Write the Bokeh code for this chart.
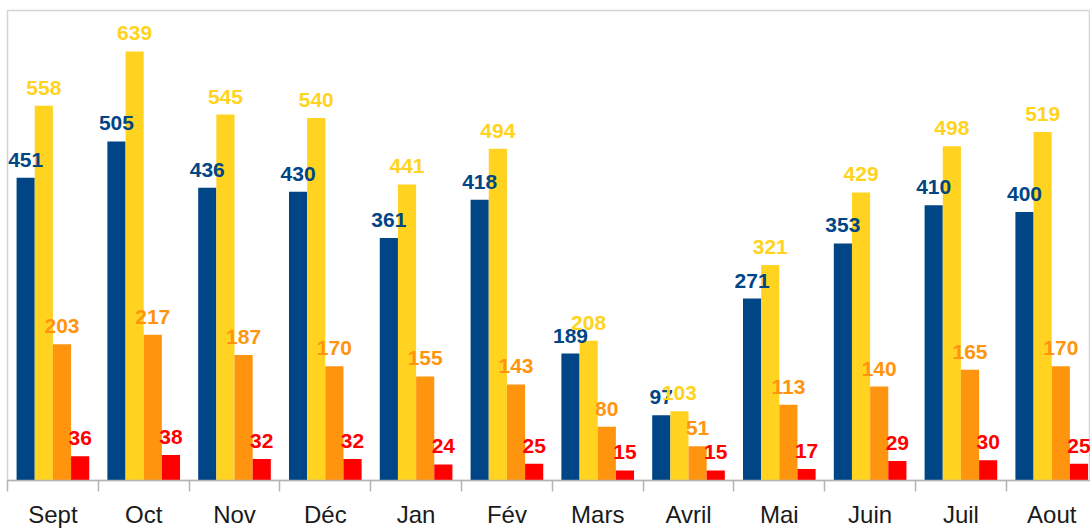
from bokeh.plotting import figure
from bokeh.models import ColumnDataSource, Range1d, FixedTicker, LinearAxis
from bokeh.transform import dodge
from bokeh.core.properties import value
from bokeh.embed import file_html
from bokeh.resources import INLINE

months = ["Sept", "Oct", "Nov", "Déc", "Jan", "Fév", "Mars", "Avril", "Mai", "Juin", "Juil", "Aout"]
serie_bleue = [451, 505, 436, 430, 361, 418, 189, 97, 271, 353, 410, 400]
serie_jaune = [558, 639, 545, 540, 441, 494, 208, 103, 321, 429, 498, 519]
serie_orange = [203, 217, 187, 170, 155, 143, 80, 51, 113, 140, 165, 170]
serie_rouge = [36, 38, 32, 32, 24, 25, 15, 15, 17, 29, 30, 25]

series = [
    ("bleue", serie_bleue, "#004586", -0.3),
    ("jaune", serie_jaune, "#ffd320", -0.1),
    ("orange", serie_orange, "#ff950e", 0.1),
    ("rouge", serie_rouge, "#ff0000", 0.3),
]

idx = list(range(len(months)))
data = {"i": idx}
for name, vals, _, _ in series:
    data[name] = vals
    data[name + "_lbl"] = [str(v) for v in vals]
source = ColumnDataSource(data)

p = figure(
    frame_width=1083, frame_height=470,
    x_range=Range1d(-0.5, 11.427), y_range=Range1d(0, 700),
    output_backend="svg", toolbar_location=None,
    x_axis_location=None, y_axis_location=None,
    min_border_left=7, min_border_right=0, min_border_top=10, min_border_bottom=0,
)
p.xgrid.visible = False
p.ygrid.visible = False
p.outline_line_color = "#d4d4d4"
p.outline_line_width = 1.5
p.background_fill_color = "white"
p.border_fill_color = "white"

for name, vals, color, off in series:
    p.vbar(x=dodge("i", off, range=p.x_range), top=name, width=0.2, bottom=0,
           source=source, fill_color=color, line_color=None)
for name, vals, color, off in series:
    p.text(x=dodge("i", off, range=p.x_range), y=name, text=name + "_lbl", source=source,
           text_color=color, text_font=value("Liberation Sans"), text_font_style="bold",
           text_font_size="21px", text_align="center", text_baseline="alphabetic",
           y_offset=-18)

axis = LinearAxis(
    ticker=FixedTicker(ticks=idx, minor_ticks=[i - 0.5 for i in range(len(months) + 1)]),
    major_label_overrides={i: m for i, m in enumerate(months)},
)
axis.axis_line_color = "#b3b3b3"
axis.axis_line_width = 1.5
axis.major_tick_line_color = None
axis.major_tick_in = 0
axis.major_tick_out = 0
axis.minor_tick_line_color = "#b3b3b3"
axis.minor_tick_line_width = 1.5
axis.minor_tick_in = 0
axis.minor_tick_out = 11
axis.major_label_standoff = 9
axis.major_label_text_font = "Liberation Sans"
axis.major_label_text_font_size = "24px"
axis.major_label_text_color = "#1a1a1a"
p.add_layout(axis, "below")

open("out.html", "w").write(file_html(p, INLINE))
